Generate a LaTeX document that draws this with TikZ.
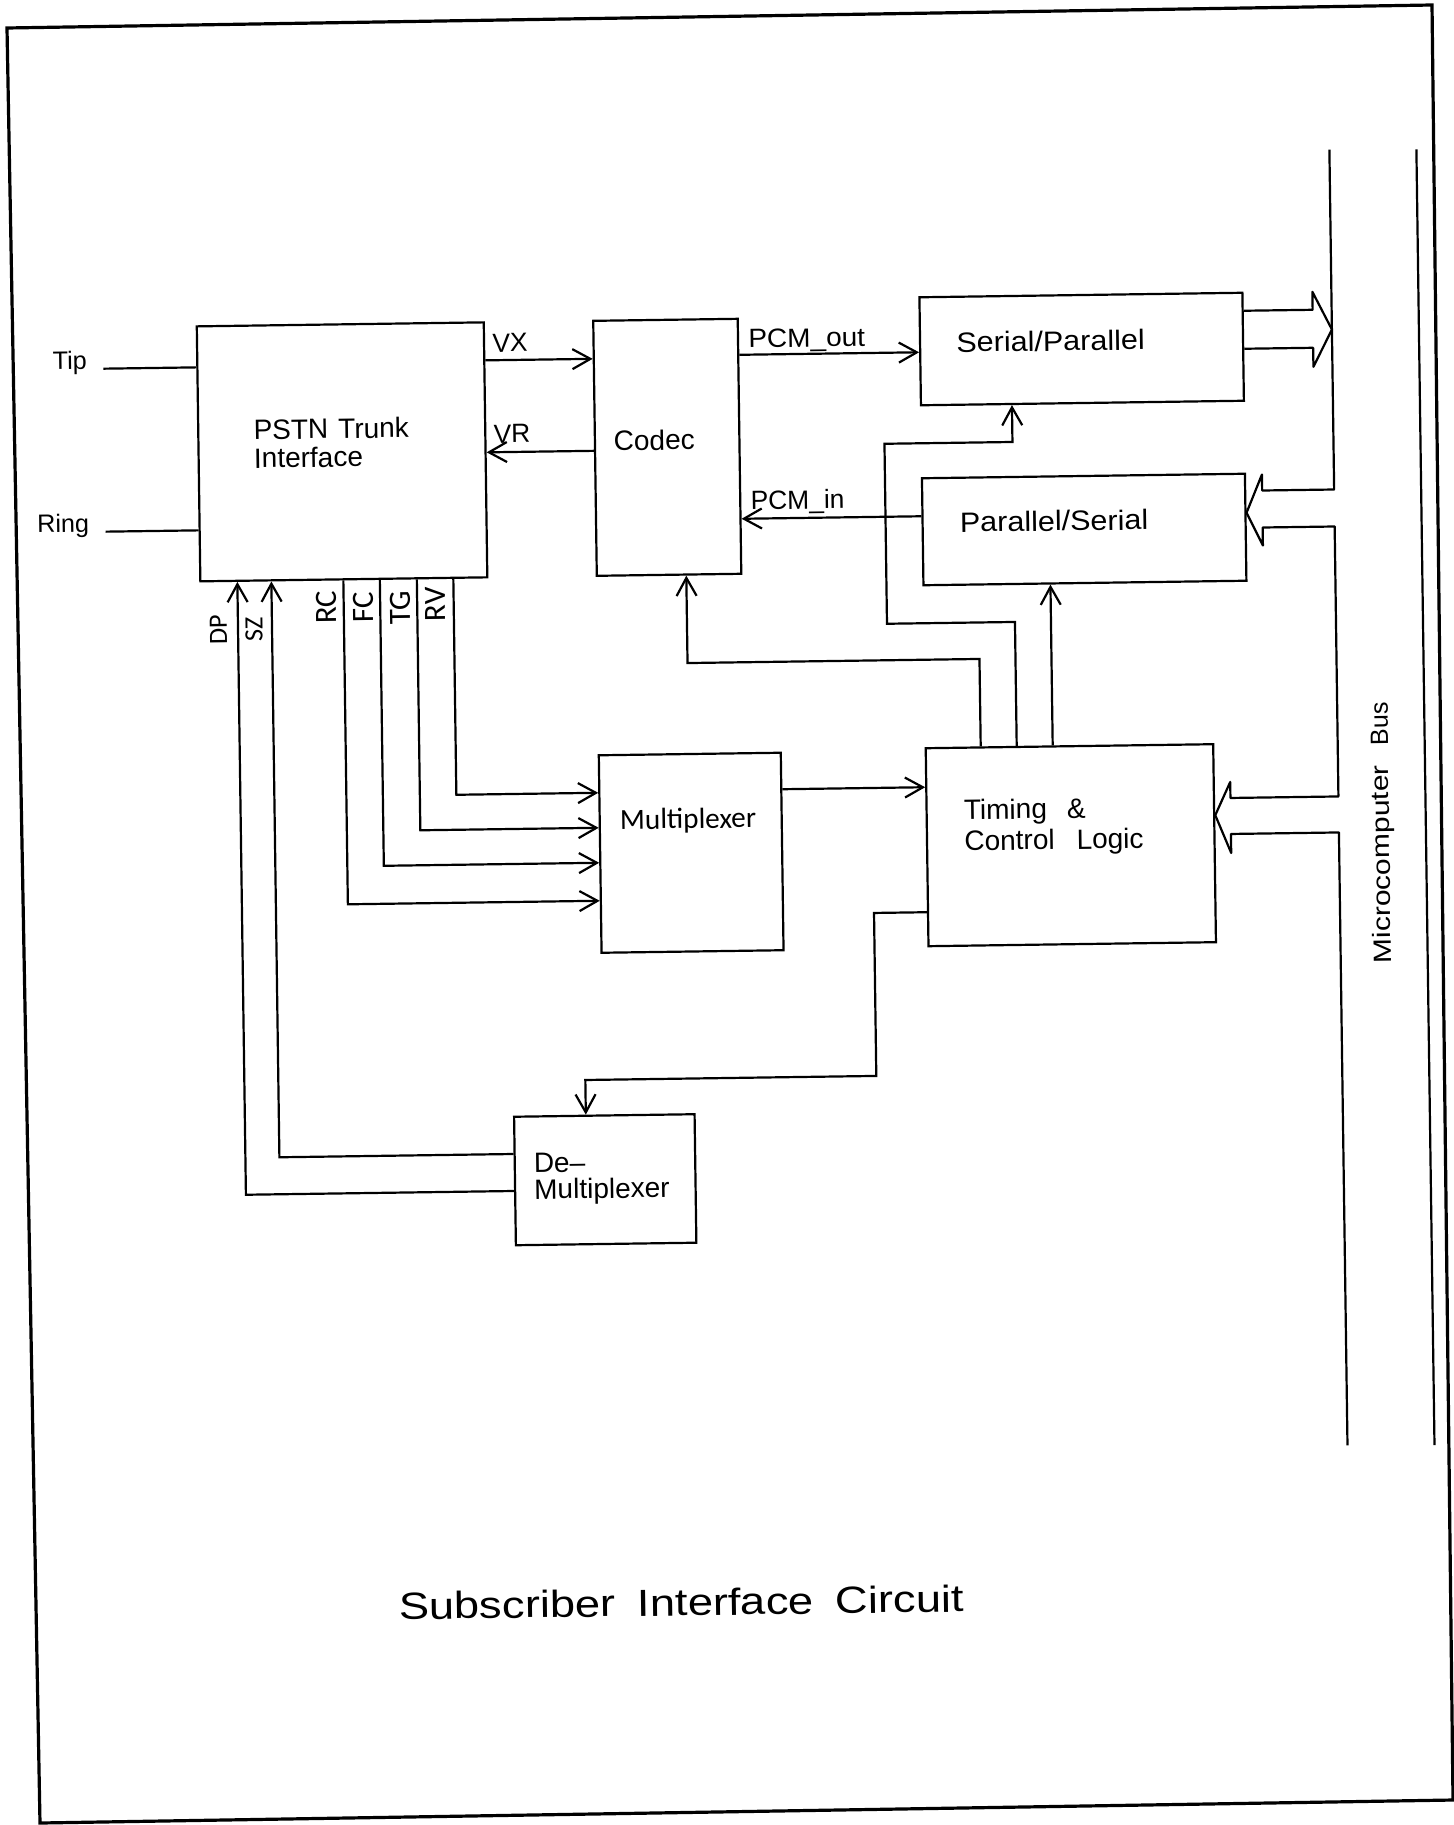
\documentclass[tikz,border=0pt]{standalone}
\usepackage{fontspec}
\setmainfont{Liberation Sans}
\newfontfamily\calfont{Carlito}
\usepackage{graphicx}
\usetikzlibrary{arrows.meta}
\begin{document}
\begin{tikzpicture}[x=0.5pt,y=-0.5pt,
  wire/.style={line width=1.1pt,line join=round},
  arr/.style={line width=1.1pt,-{Straight Barb[length=9pt,width=10pt]}},
  box/.style={draw,line width=1.1pt,inner sep=0pt,rectangle},
  txt/.style={inner sep=0pt,font=\fontsize{14}{16}\selectfont},
  sigtxt/.style={inner sep=0pt,font=\fontsize{13.2}{15}\selectfont},
  sidetxt/.style={inner sep=0pt,font=\fontsize{12.6}{15}\selectfont},
  vtag/.style={inner sep=0pt,rotate=90,font=\calfont\fontsize{15.5}{17}\selectfont},
  vtagb/.style={inner sep=0pt,rotate=90,font=\calfont\fontsize{13.2}{15}\selectfont},
  pageframe/.style={line width=1.6pt,line join=miter}]
\useasboundingbox (0,0) rectangle (1454,1825);
\fill[white] (0,0) rectangle (1454,1825);
\draw[pageframe] (7,28) -- (1432,5) -- (1453,1800) -- (40,1823) -- cycle;
\begin{scope}[transform canvas={rotate around={0.8:(727,912)}}]
% boxes
\node[box,minimum width=143.5pt,minimum height=127.5pt] (pstn) at (348.5,446.5) {};
\node[box,minimum width=72.25pt,minimum height=127.5pt] (codec) at (673.75,446.5) {};
\node[box,minimum width=161.5pt,minimum height=54pt] (sp) at (1089.5,354) {};
\node[box,minimum width=161.5pt,minimum height=53.5pt] (ps) at (1089.5,534.5) {};
\node[box,minimum width=143.75pt,minimum height=99pt] (timing) at (1071.75,850) {};
\node[box,minimum width=91pt,minimum height=98.75pt] (mux) at (692,852.25) {};
\node[box,minimum width=90.25pt,minimum height=64.25pt] (demux) at (601.5,1178) {};
% box texts
\node[txt,anchor=base west] (pstnA) at (260,433) {PSTN\hspace{5pt}Trunk};
\node[txt,anchor=base west] (pstnB) at (260,461.5) {Interface};
\node[txt,anchor=base west] (codecT) at (620,449) {Codec};
\node[txt,anchor=base west] (spT) at (964,355.5) {\scalebox{1.09}[1]{Serial/Parallel}};
\node[txt,anchor=base west] (psT) at (965,535.5) {\scalebox{1.09}[1]{Parallel/Serial}};
\node[txt,anchor=base west] (timA) at (965,823) {Timing\hspace{10pt}\&};
\node[txt,anchor=base west] (timB) at (965,854) {Control\hspace{11pt}Logic};
\node[inner sep=0pt,anchor=base west,font=\calfont\fontsize{14.6}{16}\selectfont] (muxT) at (621,828) {Multiplexer};
\node[txt,anchor=base west] (dmA) at (530,1170) {De–};
\node[txt,anchor=base west] (dmB) at (530,1196.5) {Multiplexer};
% signal labels
\node[sidetxt,anchor=base east] (tipT) at (95,360) {Tip};
\node[sidetxt,anchor=base east] (ringT) at (95,523) {Ring};
\node[sigtxt,anchor=base west] (vxT) at (500,349) {VX};
\node[sigtxt,anchor=base west] (vrT) at (500,440) {VR};
\node[sigtxt,anchor=base west] (pcmoT) at (756,348) {\scalebox{1.06}[1]{PCM\_out}};
\node[sigtxt,anchor=base west] (pcmiT) at (756,510) {PCM\_in};
\node[vtagb] (dpT) at (222.5,623) {DP};
\node[vtagb] (szT) at (258,622.5) {SZ};
\node[vtag] (rcT) at (331,602) {RC};
\node[vtag] (fcT) at (367.5,602.5) {FC};
\node[vtag] (tgT) at (404.5,603) {TG};
\node[vtag] (rvT) at (439.5,600.5) {RV};
\node[inner sep=0pt,rotate=90,font=\fontsize{12.5}{15}\selectfont] (busT) at (1384,842) {\scalebox{1.2}[1]{Microcomputer}\hspace{10pt}Bus};
\node[inner sep=0pt,anchor=base west,font=\fontsize{18.9}{22}\selectfont] (title) at (389,1615) {\scalebox{1.2}[1]{Subscriber\hspace{9pt}Interface\hspace{9pt}Circuit}};
% tip / ring
\coordinate (tipL) at (111,360);
\coordinate (ringL) at (111,523);
\draw[wire] (tipL) -- (tipL -| pstn.west);
\draw[wire] (ringL) -- (ringL -| pstn.west);
% codec links
\draw[arr] (pstn.east |- 0,357) -- (codec.west |- 0,357);
\draw[arr] (codec.west |- 0,449) -- (pstn.east |- 0,449);
\draw[arr] (codec.east |- 0,355) -- (sp.west |- 0,355);
\draw[arr] (ps.west |- 0,519) -- (codec.east |- 0,519);
% control from timing
\draw[arr] (timing.north -| 983,0) |- (691,662.5) -- (codec.south -| 691,0);
\draw[arr] (timing.north -| 1019,0) |- (891,626) |- (1019,446) -- (sp.south -| 1019,0);
\draw[arr] (timing.north -| 1055,0) -- (ps.south -| 1055,0);
% multiplexer
\draw[arr] (pstn.south -| 458,0) |- (mux.west |- 0,791);
\draw[arr] (pstn.south -| 421.5,0) |- (mux.west |- 0,826);
\draw[arr] (pstn.south -| 384.5,0) |- (mux.west |- 0,861);
\draw[arr] (pstn.south -| 348,0) |- (mux.west |- 0,899);
\draw[arr] (mux.east |- 0,790) -- (timing.west |- 0,790);
% demultiplexer
\draw[arr] (timing.west |- 0,915) -| (874,1078) -| (demux.north -| 583,0);
\draw[arr] (demux.west |- 0,1151) -| (pstn.south -| 276,0);
\draw[arr] (demux.west |- 0,1188) -| (pstn.south -| 242,0);
% microcomputer bus
\coordinate (busTop) at (1340,158);
\coordinate (busBot) at (1340,1454);
\draw[wire] (busTop) -- (1340,498) -- (1268,498) -- (1268,482) -- (ps.east |- 0,520) -- (1268,553) -- (1268,535) -- (1340,535) -- (1340,805) -- (1232,805) -- (1232,789) -- (timing.east |- 0,822) -- (1232,860) -- (1232,841) -- (1340,841) -- (busBot);
\draw[wire] (sp.east |- 0,318) -- (1321,318) -- (1321,300) -- (1340,338) -- (1321,375) -- (1321,356) -- (sp.east |- 0,356);
\coordinate (bus2Top) at (1427,159);
\coordinate (bus2Bot) at (1427,1455);
\draw[wire] (bus2Top) -- (bus2Bot);
\end{scope}
\end{tikzpicture}
\end{document}
